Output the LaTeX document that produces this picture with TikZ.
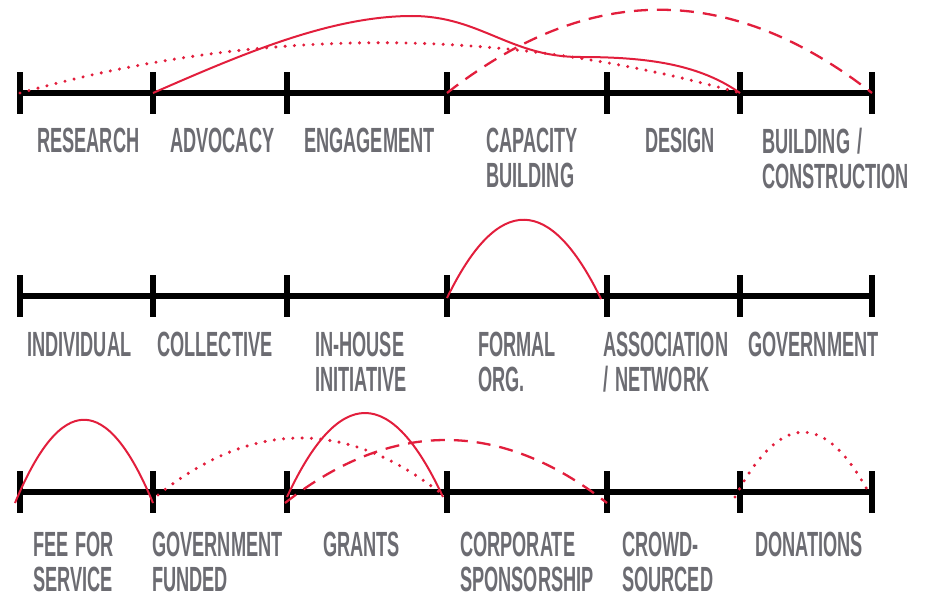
\documentclass[tikz,border=0pt]{standalone}
\usepackage{fontspec}
\newfontfamily\lblfont{Liberation Sans}[FakeStretch=0.52,WordSpace=1.4]
\definecolor{arcred}{RGB}{226,30,60}
\definecolor{lblgray}{RGB}{108,108,114}
\tikzset{
  tickmark/.style={rectangle,fill=black,inner sep=0pt,minimum width=5.5pt,minimum height=42pt},
  axisline/.style={line width=6.5pt,black},
  sol/.style={arcred,line width=2pt},
  dashy/.style={arcred,line width=2.3pt,dash pattern=on 14pt off 9pt},
  dotty/.style={arcred,line width=3.4pt,line cap=round,dash pattern=on 0pt off 9.3pt},
  lbl/.style={anchor=north west,inner sep=0pt,align=left,text=lblgray,
     font=\lblfont\bfseries\fontsize{35}{35}\selectfont}
}
\begin{document}
\begin{tikzpicture}[x=1pt,y=-1pt]
\useasboundingbox (0,0) rectangle (933,599);
% ---------- row 1 ----------
\foreach \n/\x in {a/20,b/153,c/287,d/447,e/607,f/740,g/872}
  \node[tickmark] (r1\n) at (\x,93) {};
\draw[axisline] (r1a.center) -- (r1g.center);
\foreach \n in {a,b,c,d,e,f,g} \node[tickmark] at (r1\n.center) {};
\draw[dotty] (r1a.center) .. controls +(240,-67) and +(-240,-67) .. (r1f.center);
\draw[sol] (r1b.center) .. controls (240,55) and (330,16) .. (412,16)
   .. controls (480,16) and (510,57) .. (580,57)
   .. controls (650,57) and (700,65) .. (r1f.center);
\draw[dashy] (r1d.center) .. controls +(142,-111) and +(-142,-111) .. (r1g.center);
\node[lbl] (l1a) at (37,128) {RESEARCH};
\node[lbl] (l1b) at (170,128) {ADVOCACY};
\node[lbl] (l1c) at (304,128) {ENGAGEMENT};
\node[lbl] (l1d) at (486,128) {CAPACITY\\BUILDING};
\node[lbl] (l1e) at (645,128) {DESIGN};
\node[lbl] (l1f) at (762,128) {BUILDING /\\CONSTRUCTION};
% ---------- row 2 ----------
\foreach \n/\x in {a/20,b/153,c/287,d/447,e/607,f/740,g/872}
  \node[tickmark] (r2\n) at (\x,296) {};
\draw[axisline] (r2a.center) -- (r2g.center);
\foreach \n in {a,b,c,d,e,f,g} \node[tickmark] at (r2\n.center) {};
\draw[sol] ([yshift=-2pt]r2d.center) .. controls +(51,-105) and +(-51,-105) .. ([xshift=-6pt,yshift=-3pt]r2e.center);
\node[lbl] (l2a) at (27,332) {INDIVIDUAL};
\node[lbl] (l2b) at (157,332) {COLLECTIVE};
\node[lbl] (l2c) at (315,332) {IN-HOUSE\\INITIATIVE};
\node[lbl] (l2d) at (478,332) {FORMAL\\ORG.};
\node[lbl] (l2e) at (603,332) {ASSOCIATION\\/ NETWORK};
\node[lbl] (l2f) at (748,332) {GOVERNMENT};
% ---------- row 3 ----------
\foreach \n/\x in {a/20,b/153,c/287,d/447,e/607,f/740,g/872}
  \node[tickmark] (r3\n) at (\x,492) {};
\draw[axisline] (r3a.center) -- (r3g.center);
\foreach \n in {a,b,c,d,e,f,g} \node[tickmark] at (r3\n.center) {};
\draw[sol] ([xshift=-5pt,yshift=-11pt]r3a.center) .. controls +(46,-111) and +(-46,-111) .. ([yshift=-11pt]r3b.center);
\draw[dotty] ([xshift=5pt,yshift=-3pt]r3b.center) .. controls +(95,-76) and +(-95,-76) .. ([xshift=-4pt,yshift=-3pt]r3d.center);
\draw[sol] ([yshift=-5pt]r3c.center) .. controls +(52,-112) and +(-52,-112) .. ([xshift=-4pt,yshift=-5pt]r3d.center);
\draw[dashy] ([xshift=-2pt,yshift=-11pt]r3c.center) .. controls +(107,-84) and +(-107,-84) .. ([yshift=-11pt]r3e.center);
\draw[dotty] ([xshift=-5pt,yshift=-5pt]r3f.center) .. controls +(45,-85) and +(-45,-85) .. ([xshift=-2pt,yshift=-3pt]r3g.center);
\node[lbl] (l3a) at (33,532) {FEE FOR\\SERVICE};
\node[lbl] (l3b) at (152,532) {GOVERNMENT\\FUNDED};
\node[lbl] (l3c) at (323,532) {GRANTS};
\node[lbl] (l3d) at (460,532) {CORPORATE\\SPONSORSHIP};
\node[lbl] (l3e) at (622,532) {CROWD-\\SOURCED};
\node[lbl] (l3f) at (755,532) {DONATIONS};
\end{tikzpicture}
\end{document}
